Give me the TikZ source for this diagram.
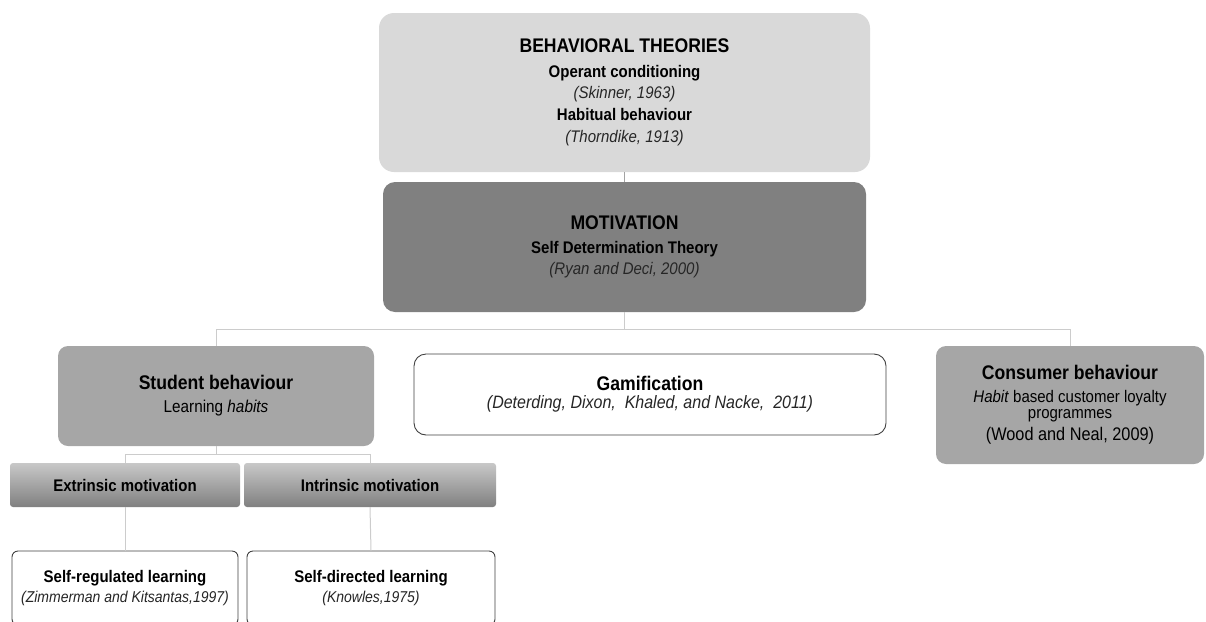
\documentclass[tikz,border=0pt]{standalone}
\usepackage{graphicx}
\usepackage{fontspec}
\setmainfont{Liberation Sans}
\definecolor{behfill}{HTML}{D9D9D9}
\definecolor{motfill}{HTML}{808080}
\definecolor{midfill}{HTML}{A6A6A6}
\definecolor{linkcol}{HTML}{CCCCCC}
\definecolor{edgecol}{HTML}{404040}
\definecolor{gradtop}{HTML}{C8C8C8}
\definecolor{gradbot}{HTML}{808080}
\definecolor{citecol}{HTML}{262626}
\newcommand\vs[1]{\scalebox{1}[1.12]{#1}}
\newcommand\ttl[2]{\vs{\fontsize{#1}{10}\selectfont\bfseries #2}}
\newcommand\cit[2]{\vs{\fontsize{#1}{10}\selectfont\itshape\color{citecol}#2}}
\newcommand\rgl[2]{\vs{\fontsize{#1}{10}\selectfont #2}}
\tikzset{
  basebox/.style={rectangle, align=center, inner sep=0pt, text=black},
  behbox/.style={basebox, fill=behfill, rounded corners=15pt},
  motbox/.style={basebox, fill=motfill, rounded corners=12pt},
  midbox/.style={basebox, fill=midfill, rounded corners=10pt},
  whitebox/.style={basebox, draw=edgecol, line width=0.9pt, fill=white, rounded corners=12pt},
  leafbox/.style={basebox, draw=edgecol, line width=0.9pt, fill=white, rounded corners=6pt},
  gradbox/.style={basebox, top color=gradtop, bottom color=gradbot, rounded corners=3pt},
  link/.style={draw=linkcol, line width=1pt},
}
\begin{document}
\begin{tikzpicture}[x=1pt,y=-1pt]
\useasboundingbox (0,0) rectangle (1206,621);
\clip (0,0) rectangle (1206,621);

\node[behbox, minimum width=491pt, minimum height=159pt,
  font=\fontsize{15}{21}\selectfont] (beh) at (624.5,92.5)
  {\ttl{17.6}{BEHAVIORAL THEORIES}\\[4pt]
   \ttl{15}{Operant conditioning}\\
   \cit{15}{(Skinner, 1963)}\\[1pt]
   \ttl{15}{Habitual behaviour}\\[1pt]
   \cit{15}{(Thorndike, 1913)}};

\node[motbox, minimum width=483pt, minimum height=130pt,
  font=\fontsize{15}{21}\selectfont] (mot) at (624.5,247)
  {\ttl{17.6}{MOTIVATION}\\[3pt]
   \ttl{15}{Self Determination Theory}\\
   \cit{15}{(Ryan and Deci, 2000)}};

\node[midbox, minimum width=316pt, minimum height=100pt,
  font=\fontsize{15}{23}\selectfont] (stu) at (216,396)
  {\ttl{17.6}{Student behaviour}\\
   \rgl{15.3}{Learning \textit{habits}}};

\node[whitebox, minimum width=472pt, minimum height=81pt,
  font=\fontsize{16}{18}\selectfont] (gam) at (650,394.5)
  {\ttl{17.6}{Gamification}\\
   \cit{16}{(Deterding, Dixon,\ \ Khaled, and Nacke,\ \ 2011)}};

\node[midbox, minimum width=268pt, minimum height=118pt,
  font=\fontsize{15}{16}\selectfont] (con) at (1070,405)
  {\ttl{17.6}{Consumer behaviour}\\[7pt]
   \rgl{15}{\textit{Habit} based customer loyalty}\\
   \rgl{15}{programmes}\\[4pt]
   \rgl{16.3}{(Wood and Neal, 2009)}};

\node[gradbox, minimum width=230pt, minimum height=44pt,
  font=\fontsize{15}{15}\selectfont] (ext) at (125,485)
  {\ttl{15}{Extrinsic motivation}};
\node[gradbox, minimum width=252pt, minimum height=44pt,
  font=\fontsize{15}{15}\selectfont] (int) at (370,485)
  {\ttl{15}{Intrinsic motivation}};

\node[leafbox, minimum width=226pt, minimum height=74pt,
  font=\fontsize{15}{20}\selectfont] (srl) at (125,588)
  {\ttl{15}{Self-regulated learning}\\
   \cit{14}{(Zimmerman and Kitsantas,1997)}};
\node[leafbox, minimum width=248pt, minimum height=74pt,
  font=\fontsize{15}{20}\selectfont] (sdl) at (371,588)
  {\ttl{15}{Self-directed learning}\\
   \cit{14}{(Knowles,1975)}};

% connectors
\draw[draw=linkcol!80!black, line width=1pt] (beh.south) -- (mot.north);
\draw[link] (mot.south) -- ++(0,17) coordinate (j1);
\draw[link] (stu.north) |- (j1) -| (con.north);
\draw[link] (stu.south) -- ++(0,8) coordinate (j2);
\draw[link] (ext.north) |- (j2) -| (int.north);
\draw[link] (ext.south) -- (srl.north);
\draw[link] (int.south) -- (sdl.north);
\end{tikzpicture}
\end{document}
